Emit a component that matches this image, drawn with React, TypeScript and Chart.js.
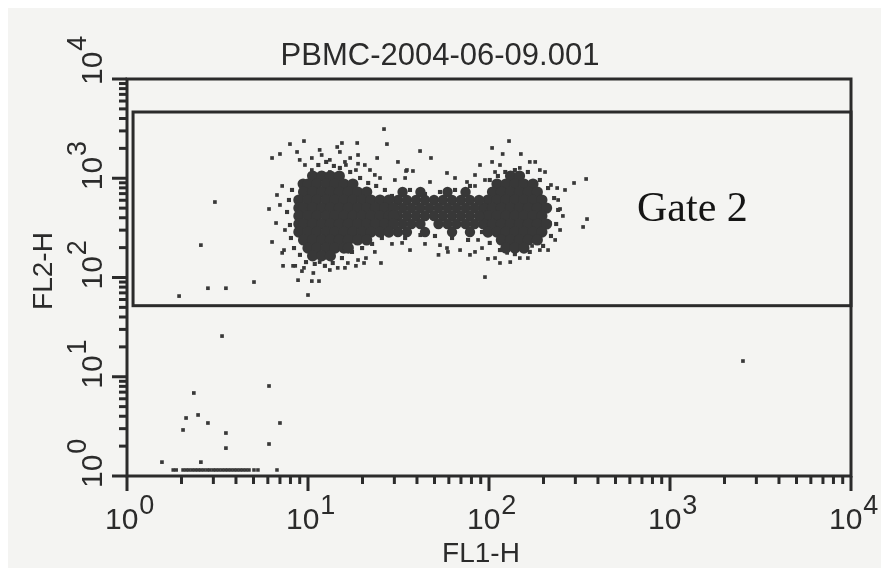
import React, { useEffect, useRef } from "react";
import { Chart, registerables } from "chart.js";
Chart.register(...registerables);

const TITLE = "PBMC-2004-06-09.001";
const X_LABEL = "FL1-H";
const Y_LABEL = "FL2-H";
const GATE_LABEL = "Gate 2";
const AXIS_MIN = 1;
const AXIS_MAX = 10000;
const majorTicks = [1, 10, 100, 1000, 10000];
const tickExponents = ["0", "1", "2", "3", "4"];
const gateFL1 = [1.08, 10000];
const gateFL2 = [52, 4650];

// dense population 1 (rows of FL2-H with their FL1-H events)
const coreOneRows = [
  { fl2: 1054, fl1: [10.6, 11.9, 13.3, 14.9] },
  { fl2: 875, fl1: [9.4, 10, 11.2, 12.6, 14.1, 15.8, 17.7] },
  { fl2: 727, fl1: [9.45, 10.6, 11.9, 13.3, 14.9, 16.7, 18.8, 21.1] },
  { fl2: 604, fl1: [8.9, 10, 11.2, 12.6, 14.1, 15.8, 17.7, 19.9, 22.3, 25, 28] },
  { fl2: 501, fl1: [8.9, 9.45, 10.6, 11.9, 13.3, 14.9, 16.7, 18.8, 21.1, 23.6, 26.5, 29.7] },
  { fl2: 417, fl1: [8.9, 10, 11.2, 12.6, 14.1, 15.8, 17.7, 19.9, 22.3, 25, 28, 29.7] },
  { fl2: 346, fl1: [8.9, 9.45, 10.6, 11.9, 13.3, 14.9, 16.7, 18.8, 21.1, 23.6, 26.5, 29.7] },
  { fl2: 287, fl1: [8.9, 10, 11.2, 12.6, 14.1, 15.8, 17.7, 19.9, 22.3, 25, 28] },
  { fl2: 239, fl1: [9.45, 10.6, 11.9, 13.3, 14.9, 16.7, 18.8, 21.1] },
  { fl2: 198, fl1: [10, 11.2, 12.6, 14.1, 15.8, 16.7] },
  { fl2: 165, fl1: [10.6, 11.9, 13.3] },
];

// bridge between the two populations
const bridgeRows = [
  { fl2: 727, fl1: [33.3, 41.8, 59.0, 74.2] },
  { fl2: 604, fl1: [31.4, 35.2, 39.5, 44.3, 49.7, 55.7, 62.5, 70, 78.5, 88.1] },
  { fl2: 501, fl1: [33.3, 37.3, 41.8, 46.9, 52.6, 59, 66.1, 74.2, 83.2] },
  { fl2: 417, fl1: [31.4, 35.2, 39.5, 44.3, 49.7, 55.7, 62.5, 70, 78.5, 88.1] },
  { fl2: 346, fl1: [33.3, 37.3, 41.8, 52.6, 59, 66.1, 74.2, 83.2] },
  { fl2: 287, fl1: [31.4, 35.2, 44.3, 62.5, 78.5] },
];

// dense population 2
const coreTwoRows = [
  { fl2: 1054, fl1: [131.5, 147.5] },
  { fl2: 875, fl1: [110.7, 124, 139, 156, 175] },
  { fl2: 727, fl1: [104.5, 117, 131.5, 147.5, 165, 185] },
  { fl2: 604, fl1: [98.7, 110.7, 124, 139, 156, 175, 196] },
  { fl2: 501, fl1: [93.3, 104.5, 117, 131.5, 147.5, 165, 185, 208] },
  { fl2: 417, fl1: [93.3, 98.7, 110.7, 124, 139, 156, 175, 196] },
  { fl2: 346, fl1: [93.3, 104.5, 117, 131.5, 147.5, 165, 185, 208] },
  { fl2: 287, fl1: [98.7, 110.7, 124, 139, 156, 175, 196] },
  { fl2: 239, fl1: [117, 131.5, 147.5, 165, 185] },
  { fl2: 198, fl1: [124, 139, 156] },
];

// events along the rims of the populations [FL1-H, FL2-H]
const rimEvents: [number, number][] = [
  [11.4, 1360], [12.6, 1460], [13.9, 1330], [15, 1270], [17.1, 1156], [19.4, 1006], [21.5, 896],
  [23.8, 836], [26.6, 762], [29.1, 663], [8.16, 762], [7.85, 604], [7.66, 457], [7.95, 338],
  [8.05, 250], [8.37, 198], [9.03, 169], [9.75, 143], [10.9, 137], [12.4, 131], [13.7, 140],
  [15.4, 157], [17.5, 181], [19.9, 198], [22.6, 218], [25.6, 250], [28.4, 287],
  [123, 1156], [139, 1210], [164, 1156], [191, 960], [212, 797], [229, 632], [241, 479],
  [235, 346], [220, 262], [199, 208], [168, 181], [139, 172], [115, 189], [101, 223],
  [91.5, 287], [101, 960], [112, 1054],
  [36.6, 762], [44.3, 694], [53.6, 727], [64.9, 762], [78.5, 836], [34.4, 250], [41.8, 268],
  [50.3, 262], [62.5, 250], [76.6, 239],
];

// scattered single events [FL1-H, FL2-H]
const sparseEvents: [number, number][] = [
  [3.06, 576], [2.56, 212], [1.94, 65], [2.8, 78], [3.52, 78], [5.03, 90], [3.35, 25.7],
  [6.09, 8.07], [2.34, 6.86], [2.12, 3.84], [2.47, 4.12], [2.8, 3.42], [2.04, 2.91],
  [3.52, 2.71], [7.0, 3.42], [3.52, 1.91], [6.09, 2.1], [1.56, 1.38], [2.56, 1.38],
  [6.09, 490], [6.74, 678], [6.66, 354], [6.33, 228], [7.28, 131], [8.27, 131], [8.81, 94],
  [9.26, 116], [26.3, 3130], [27.3, 2210], [9.5, 2370], [7.95, 2210], [7.0, 1755], [6.33, 1600],
  [8.7, 1840], [25.3, 140], [10, 66.6], [10.5, 92], [11.5, 92], [41.6, 1880], [47.8, 1600],
  [31.4, 1460], [104, 2020], [129, 2370], [150, 1755], [180, 1460], [295, 896], [344, 983],
  [348, 388], [331, 323], [263, 762], [247, 490], [256, 417], [217, 354], [95, 101], [115, 140],
  [98.7, 154], [7.2, 177], [8.5, 131],
  [34.8, 1183], [38, 1183], [58.6, 1130], [95, 960], [75.6, 917], [33.1, 223], [53.6, 212],
  [58.6, 198], [59.3, 181], [91.5, 198], [83.7, 181],
  [10.7, 111], [14.6, 125], [16.6, 140], [18.9, 150], [20.4, 140],
  [9.0, 1530], [10.5, 1600], [11.9, 1715], [13.2, 1530], [15.0, 1840], [16, 1460], [17.1, 1600],
  [18.4, 1210], [20.6, 1360], [23.4, 1080], [18.7, 2265], [15.4, 2265], [14.5, 2065], [11.6, 1930],
  [18.9, 1715], [24.1, 1600], [35.2, 1211],
  [238, 797], [119, 1755], [104, 1460], [173, 208], [126, 177], [148, 1270], [191, 1210],
  [108, 1156], [148, 157], [191, 189], [232, 239], [241, 604], [78.5, 169],
  [2530, 14.4],
  [9.62, 1360], [10.5, 1211], [13.2, 1156], [16.2, 1360], [18.9, 1400], [22, 1211], [25, 1006],
  [30.2, 960], [34.4, 1006], [47.2, 917], [64.9, 1006], [83.7, 836],
  [7.2, 836], [7.46, 301], [7.0, 538], [7.37, 189],
  [9.5, 125], [11.6, 143], [13.2, 119], [16, 125], [18.4, 131], [20.9, 157], [23.4, 181],
  [29.1, 218], [36.6, 189], [44.3, 218], [69.2, 189], [52.6, 169],
  [89.2, 1360], [115, 1360], [168, 1460], [204, 1156], [220, 855], [247, 301], [212, 189],
  [164, 157], [131, 143], [108, 157], [87, 239], [83.7, 1078],
];

// off-scale events piled just above the FL2-H floor
const floorFL2 = 1.15;
const floorFL1 = [1.8, 1.87, 2.04, 2.12, 2.2, 2.29, 2.38, 2.47, 2.56, 2.66, 2.77, 2.87, 2.99, 3.1,
  3.22, 3.35, 3.48, 3.61, 3.75, 3.9, 4.05, 4.21, 4.37, 4.54, 4.72, 5.03, 5.29, 6.74];

const DOT = "#383838";
const INK = "#2b2b2b";
const SANS = '"Liberation Sans", Arial, sans-serif';
const SERIF = '"Liberation Serif", "Times New Roman", serif';

const fromRows = (rows: { fl2: number; fl1: number[] }[]) =>
  rows.flatMap((r) => r.fl1.map((x) => ({ x, y: r.fl2 })));
const fromPairs = (p: [number, number][]) => p.map(([x, y]) => ({ x, y }));

const cytoPlugin = {
  id: "cyto",
  beforeDraw(chart: any) {
    const ctx = chart.ctx;
    ctx.save();
    ctx.fillStyle = "#f4f4f2";
    ctx.fillRect(0, 0, chart.width, chart.height);
    ctx.restore();
  },
  afterDatasetsDraw(chart: any) {
    const ctx = chart.ctx;
    const xs = chart.scales.x;
    const ys = chart.scales.y;
    const { left, right, top, bottom } = chart.chartArea;
    ctx.save();
    ctx.strokeStyle = INK;
    ctx.lineWidth = 3;
    ctx.strokeRect(left, top, right - left, bottom - top);
    // gate
    const gx0 = xs.getPixelForValue(gateFL1[0]);
    const gx1 = xs.getPixelForValue(gateFL1[1]);
    const gy0 = ys.getPixelForValue(gateFL2[0]);
    const gy1 = ys.getPixelForValue(gateFL2[1]);
    ctx.strokeRect(gx0, gy1, gx1 - gx0, gy0 - gy1);
    // ticks
    ctx.lineWidth = 3;
    for (let d = 0; d < 4; d++) {
      for (let m = 1; m <= 9; m++) {
        const v = m * Math.pow(10, d);
        const len = m === 1 ? 15 : 8;
        const px = xs.getPixelForValue(v);
        ctx.beginPath();
        ctx.moveTo(px, bottom);
        ctx.lineTo(px, bottom + len);
        ctx.stroke();
        const py = ys.getPixelForValue(v);
        ctx.beginPath();
        ctx.moveTo(left, py);
        ctx.lineTo(left - len, py);
        ctx.stroke();
      }
    }
    ctx.beginPath();
    ctx.moveTo(xs.getPixelForValue(AXIS_MAX), bottom);
    ctx.lineTo(xs.getPixelForValue(AXIS_MAX), bottom + 15);
    ctx.moveTo(left, ys.getPixelForValue(AXIS_MAX));
    ctx.lineTo(left - 15, ys.getPixelForValue(AXIS_MAX));
    ctx.stroke();
    // tick labels
    ctx.fillStyle = INK;
    ctx.textBaseline = "alphabetic";
    ctx.textAlign = "left";
    majorTicks.forEach((v, i) => {
      const px = xs.getPixelForValue(v);
      ctx.font = `30px ${SANS}`;
      const w = ctx.measureText("10").width;
      ctx.fillText("10", px - 22, bottom + 53);
      ctx.font = `27px ${SANS}`;
      ctx.fillText(tickExponents[i], px - 22 + w + 1, bottom + 38);
      const py = ys.getPixelForValue(v);
      ctx.save();
      ctx.translate(left - 25, i === 4 ? py + 6 : py + 12);
      ctx.rotate(-Math.PI / 2);
      ctx.font = `30px ${SANS}`;
      ctx.fillText("10", 0, 0);
      ctx.font = `27px ${SANS}`;
      ctx.fillText(tickExponents[i], w + 1, -16);
      ctx.restore();
    });
    // titles
    ctx.textAlign = "center";
    ctx.font = `31px ${SANS}`;
    ctx.fillText(TITLE, 432, 57);
    ctx.font = `28px ${SANS}`;
    ctx.fillText(X_LABEL, xs.getPixelForValue(100) - 8, bottom + 86);
    ctx.save();
    ctx.translate(44, 263);
    ctx.rotate(-Math.PI / 2);
    ctx.fillText(Y_LABEL, 0, 0);
    ctx.restore();
    ctx.textAlign = "left";
    ctx.fillStyle = "#151515";
    ctx.font = `42px ${SERIF}`;
    ctx.fillText(GATE_LABEL, 629, 213);
    ctx.restore();
  },
};

export default function App() {
  const ref = useRef<HTMLCanvasElement | null>(null);
  useEffect(() => {
    if (!ref.current) return;
    const floor = floorFL1.map((x) => ({ x, y: floorFL2 }));
    const dot = (r: number, style: string) => ({ backgroundColor: DOT, borderWidth: 0, pointStyle: style, pointRadius: r, pointHoverRadius: r });
    const chart = new Chart(ref.current, {
      type: "scatter",
      data: {
        datasets: [
          { label: "Population 1", data: fromRows(coreOneRows), ...dot(5.6, "circle") },
          { label: "Bridge", data: fromRows(bridgeRows), ...dot(5.2, "circle") },
          { label: "Population 2", data: fromRows(coreTwoRows), ...dot(5.6, "circle") },
          { label: "Rim", data: fromPairs(rimEvents), ...dot(2.9, "rect") },
          { label: "Events", data: fromPairs(sparseEvents), ...dot(2.6, "rect") },
          { label: "Floor", data: floor, ...dot(2.5, "rect") },
        ],
      },
      options: {
        animation: false,
        responsive: true,
        maintainAspectRatio: false,
        layout: { padding: { left: 119, right: 30, top: 71, bottom: 92 } },
        plugins: { legend: { display: false }, tooltip: { enabled: false }, title: { display: false } },
        scales: {
          x: { type: "logarithmic", min: AXIS_MIN, max: AXIS_MAX, display: false },
          y: { type: "logarithmic", min: AXIS_MIN, max: AXIS_MAX, display: false },
        },
      },
      plugins: [cytoPlugin],
    });
    return () => chart.destroy();
  }, []);
  return (
    <div style={{ width: "100%", height: 560, position: "relative" }}>
      <canvas ref={ref} />
    </div>
  );
}
